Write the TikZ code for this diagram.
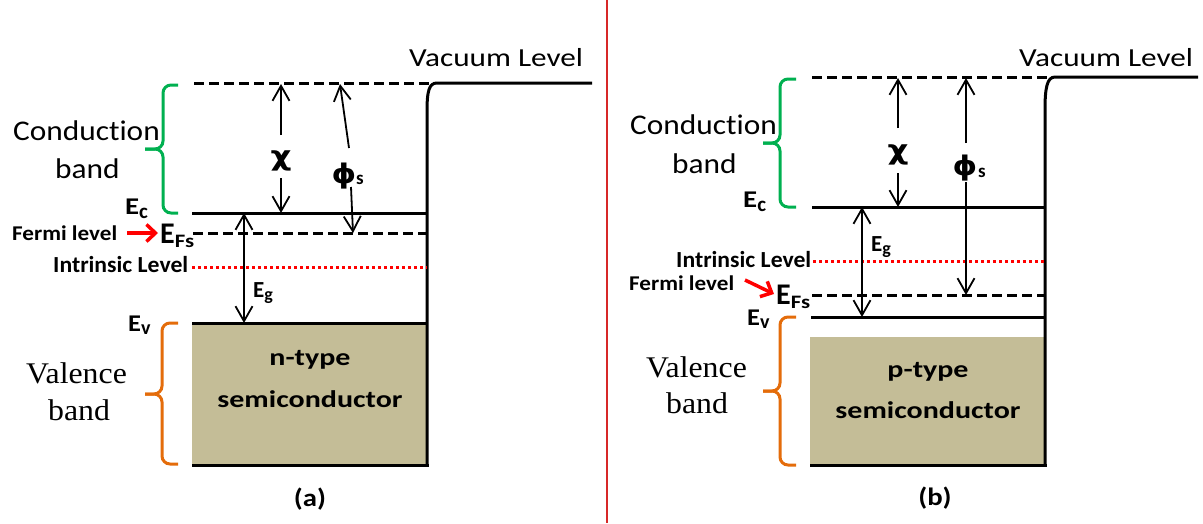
\documentclass[tikz,border=0pt]{standalone}
\usepackage{fontspec}
\usepackage{graphicx}
\setmainfont{Carlito}[Ligatures=NoCommon]
\newfontfamily\serifrm{Liberation Serif}
\newfontfamily\grk{DejaVu Sans}
\usetikzlibrary{arrows.meta}
\definecolor{bandgreen}{RGB}{0,176,80}
\definecolor{bandorange}{RGB}{228,108,10}
\definecolor{tanfill}{RGB}{196,189,151}
\definecolor{divred}{RGB}{215,40,40}
\newcommand{\fz}[1]{\fontsize{#1}{#1}\selectfont}
\newcommand{\hx}[2]{\scalebox{#1}[1]{#2}}
\begin{document}
\begin{tikzpicture}[x=1pt,y=-1pt,
  txt/.style={inner sep=0pt, anchor=base west},
  ctr/.style={inner sep=0pt, anchor=base},
  mid/.style={inner sep=0pt, anchor=center},
  level/.style={line width=3pt},
  fermiline/.style={line width=3pt, dash pattern=on 10pt off 5pt},
  intrline/.style={red, line width=3pt, dash pattern=on 3pt off 3pt},
  wall/.style={line width=3pt},
  brace/.style={line width=3pt, rounded corners=8pt},
  arr/.style={line width=1.8pt, -{Straight Barb[length=15pt,width=17pt]}},
  arrboth/.style={line width=1.8pt, {Straight Barb[length=15pt,width=17pt]}-{Straight Barb[length=15pt,width=17pt]}},
  redarr/.style={red, line width=3.5pt, -{Straight Barb[length=9pt,width=17pt]}}
]
\useasboundingbox (0,0) rectangle (1203,523);

% divider
\draw[divred, line width=1.5pt] (607,0) -- (607,523);

%%%%%%%%%%%%%%%% panel (a)
\fill[tanfill] (192,323) rectangle (427,465);
\draw[fermiline] (194,83) -- (432,83);
\draw[wall] (427,465) -- (427,112) .. controls (427,91) and (429,83) .. (437,83) -- (592,83);
\draw[level] (192,213) -- (427,213);
\draw[fermiline] (193,233) -- (427,233);
\draw[intrline] (192,267) -- (427,267);
\draw[level] (192,323) -- (427,323);
\draw[level] (192,465) -- (428.5,465);

\draw[brace, bandgreen] (178,85) -- (163,85) -- (163,149) -- (145,149);
\draw[brace, bandgreen] (145,149) -- (163,149) -- (163,213) -- (178,213);
\draw[brace, bandorange] (178,323) -- (162,323) -- (162,394) -- (145,394);
\draw[brace, bandorange] (145,394) -- (162,394) -- (162,464) -- (178,464);

\coordinate (aChiT) at (281,84);
\coordinate (aChiU) at (281,135);
\coordinate (aChiD) at (281,178);
\coordinate (aChiB) at (281,213);
\draw[arr] (aChiU) -- (aChiT);
\draw[arr] (aChiD) -- (aChiB);
\coordinate (aPhiT) at (340,84);
\coordinate (aPhiU) at (349,148);
\coordinate (aPhiD) at (351,187);
\coordinate (aPhiB) at (353,233);
\draw[arr] (aPhiU) -- (aPhiT);
\draw[arr] (aPhiD) -- (aPhiB);
\coordinate (aEgT) at (244,213);
\coordinate (aEgB) at (244,323);
\draw[arrboth] (aEgT) -- (aEgB);
\coordinate (aRA) at (127,233);
\coordinate (aRB) at (158,233);
\draw[redarr] (aRA) -- (aRB);

\node[txt] (aVac) at (409,66) {\fz{26}\hx{1.2}{Vacuum Level}};
\node[txt] (aCond1) at (13,140) {\fz{28.5}\hx{1.1}{Conduction}};
\node[txt] (aCond2) at (55,178) {\fz{28.5}\hx{1.1}{band}};
\node[mid] (aChi) at (281,161) {\grk\fz{27}\bfseries\hx{1.2}{χ}};
\node[mid] (aPhi) at (344,176) {\grk\fz{27}\bfseries\hx{1.15}{ϕ}};
\node[txt] (aPhiS) at (356,184) {\fz{19}\bfseries s};
\node[txt] (aEc) at (125,214) {\fz{24}\bfseries\hx{1.2}{E}\raisebox{-4pt}{\fz{21}c}};
\node[txt] (aFermi) at (12,240) {\fz{21}\bfseries\hx{1.1}{Fermi level}};
\node[txt] (aEFs) at (160,243) {\fz{30}\bfseries E\raisebox{-4pt}{\fz{19}\hx{1.2}{Fs}}};
\node[txt] (aIntr) at (53,272) {\fz{23}\bfseries\hx{1.03}{Intrinsic Level}};
\node[txt] (aEg) at (253,297) {\fz{23}\bfseries E\raisebox{-3pt}{\fz{18}g}};
\node[txt] (aEv) at (128,331) {\fz{24}\bfseries\hx{1.1}{E}\raisebox{-3pt}{\fz{20}v}};
\node[txt] (aVal1) at (26,383) {\serifrm\fz{30}\hx{1.06}{Valence}};
\node[txt] (aVal2) at (48,420) {\serifrm\fz{30}\hx{1.06}{band}};
\node[ctr] (aType1) at (310,365) {\fz{24}\bfseries\hx{1.25}{n-type}};
\node[ctr] (aType2) at (310,407) {\fz{24}\bfseries\hx{1.25}{semiconductor}};
\node[mid] (aCap) at (310,499) {\fz{25}\bfseries\hx{1.15}{(a)}};

%%%%%%%%%%%%%%%% panel (b)
\fill[tanfill] (810,337) rectangle (1045,465);
\draw[fermiline] (812,77) -- (1050,77);
\draw[wall] (1045,465) -- (1045,110) .. controls (1045,88) and (1047,77) .. (1055,77) -- (1198,77);
\draw[level] (812,207) -- (1045,207);
\draw[intrline] (813,261) -- (1045,261);
\draw[fermiline] (812,295) -- (1045,295);
\draw[level] (811,317) -- (1045,317);
\draw[level] (810,465) -- (1046.5,465);

\draw[brace, bandgreen] (796,79) -- (780,79) -- (780,143) -- (763,143);
\draw[brace, bandgreen] (763,143) -- (780,143) -- (780,207) -- (796,207);
\draw[brace, bandorange] (796,317) -- (780,317) -- (780,391) -- (763,391);
\draw[brace, bandorange] (763,391) -- (780,391) -- (780,465) -- (796,465);

\coordinate (bChiT) at (898,78);
\coordinate (bChiU) at (898,128);
\coordinate (bChiD) at (898,173);
\coordinate (bChiB) at (898,207);
\draw[arr] (bChiU) -- (bChiT);
\draw[arr] (bChiD) -- (bChiB);
\coordinate (bPhiT) at (966,78);
\coordinate (bPhiU) at (966,143);
\coordinate (bPhiD) at (966,182);
\coordinate (bPhiB) at (966,295);
\draw[arr] (bPhiU) -- (bPhiT);
\draw[arr] (bPhiD) -- (bPhiB);
\coordinate (bEgT) at (862,207);
\coordinate (bEgB) at (862,317);
\draw[arrboth] (bEgT) -- (bEgB);
\coordinate (bRA) at (745,280);
\coordinate (bRB) at (774,294);
\draw[redarr] (bRA) -- (bRB);

\node[txt] (bVac) at (1019,66) {\fz{26}\hx{1.2}{Vacuum Level}};
\node[txt] (bCond1) at (630,134) {\fz{28.5}\hx{1.1}{Conduction}};
\node[txt] (bCond2) at (672,173) {\fz{28.5}\hx{1.1}{band}};
\node[mid] (bChi) at (898,155) {\grk\fz{27}\bfseries\hx{1.2}{χ}};
\node[mid] (bPhi) at (965,168) {\grk\fz{27}\bfseries\hx{1.15}{ϕ}};
\node[txt] (bPhiS) at (978,177) {\fz{19}\bfseries s};
\node[txt] (bEc) at (743,207) {\fz{24}\bfseries\hx{1.2}{E}\raisebox{-4pt}{\fz{21}c}};
\node[txt] (bEg) at (871,251) {\fz{23}\bfseries E\raisebox{-3pt}{\fz{18}g}};
\node[txt] (bIntr) at (676,267) {\fz{23}\bfseries\hx{1.03}{Intrinsic Level}};
\node[txt] (bFermi) at (629,290) {\fz{21}\bfseries\hx{1.1}{Fermi level}};
\node[txt] (bEFs) at (776,304) {\fz{30}\bfseries E\raisebox{-4pt}{\fz{19}\hx{1.2}{Fs}}};
\node[txt] (bEv) at (747,325) {\fz{24}\bfseries\hx{1.1}{E}\raisebox{-3pt}{\fz{20}v}};
\node[txt] (bVal1) at (646,377) {\serifrm\fz{30}\hx{1.06}{Valence}};
\node[txt] (bVal2) at (666,413) {\serifrm\fz{30}\hx{1.06}{band}};
\node[ctr] (bType1) at (928,377) {\fz{24}\bfseries\hx{1.25}{p-type}};
\node[ctr] (bType2) at (928,418) {\fz{24}\bfseries\hx{1.25}{semiconductor}};
\node[mid] (bCap) at (935,498) {\fz{25}\bfseries\hx{1.15}{(b)}};
\end{tikzpicture}
\end{document}
